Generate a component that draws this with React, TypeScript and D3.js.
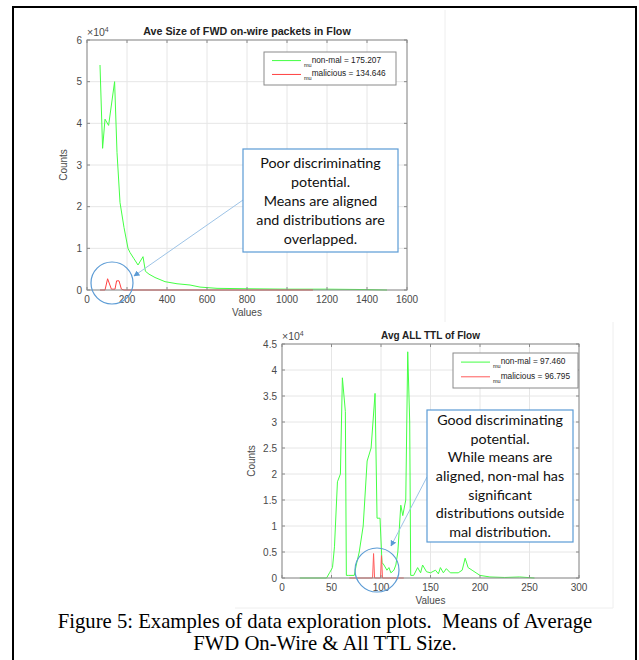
import React from "react";
import * as d3 from "d3";

// top chart: Ave Size of FWD on-wire packets (counts in 1e4)
const topGreenX = [65, 78, 90, 108, 138, 150, 165, 185, 205, 215, 235, 255, 280, 292, 310, 340, 390, 450, 515, 565, 650, 800, 1000, 1200, 1400, 1500];
const topGreenY = [5.4, 3.4, 4.1, 3.95, 5.0, 3.3, 2.1, 1.5, 1.0, 0.9, 0.75, 0.6, 0.8, 0.45, 0.38, 0.3, 0.2, 0.15, 0.12, 0.07, 0.04, 0.03, 0.02, 0.02, 0.01, 0.0];
const topRedX = [65, 90, 103, 122, 140, 148, 160, 172, 185, 300, 600, 1130];
const topRedY = [0, 0, 0.27, 0.02, 0.02, 0.22, 0.22, 0.02, 0, 0, 0, 0];
const topXTicks = [0, 200, 400, 600, 800, 1000, 1200, 1400, 1600];
const topYTicks = [0, 1, 2, 3, 4, 5, 6];

// bottom chart: Avg ALL TTL of Flow (counts in 1e4)
const botGreenX = [18, 45, 48, 51, 53, 56, 59, 61, 64, 65, 67, 73, 75, 78, 82, 86, 90, 94, 96, 99, 101, 103, 106, 108, 110, 113, 115, 117, 120, 122, 125, 127, 129, 130, 133, 137, 140, 142, 146, 150, 155, 158, 160, 163, 166, 170, 178, 182, 185, 188, 192, 196, 200, 210, 225, 240, 255];
const botGreenY = [0, 0, 0.1, 0.2, 0.6, 1.85, 2.0, 3.85, 3.2, 0.05, 0.05, 0.05, 0.25, 0.5, 1.0, 2.25, 2.5, 3.55, 1.15, 1.15, 0.3, 0.25, 0.15, 0.2, 0.1, 0.15, 0.25, 0.5, 1.4, 1.2, 1.5, 4.35, 3.0, 0.05, 0.05, 0.2, 0.1, 0.25, 0.12, 0.1, 0.15, 0.08, 0.2, 0.1, 0.18, 0.1, 0.1, 0.15, 0.38, 0.2, 0.15, 0.1, 0.05, 0.02, 0.01, 0.02, 0];
const botRedX = [68, 91.5, 92.5, 93.5, 99.5, 100.5, 101.5, 123];
const botRedY = [0, 0, 0.47, 0, 0, 0.43, 0, 0];
const botXTicks = [0, 50, 100, 150, 200, 250, 300];
const botYTicks = [0, 0.5, 1, 1.5, 2, 2.5, 3, 3.5, 4, 4.5];

const topLegend = ["non-mal = 175.207", "malicious = 134.646"];
const botLegend = ["non-mal = 97.460", "malicious = 96.795"];
const topNote = ["Poor discriminating", "potential.", "Means are aligned", "and distributions are", "overlapped."];
const botNote = ["Good discriminating", "potential.", "While means are", "aligned, non-mal has", "significant", "distributions outside", "mal distribution."];
const caption = ["Figure 5: Examples of data exploration plots.  Means of Average", "FWD On-Wire & All TTL Size."];

const GREEN = "#44ff44";
const RED = "#ff4040";
const AXIS = "#8a8a8a";
const TXT = "#4a4a4a";
const NOTE = "#5b9bd5";

type ChartProps = {
  box: [number, number, number, number];
  xDomain: [number, number];
  yDomain: [number, number];
  xTicks: number[];
  yTicks: number[];
  title: string;
  titleSize: number;
  greenX: number[];
  greenY: number[];
  redX: number[];
  redY: number[];
  legend: string[];
  legendBox: [number, number, number, number];
  redColor: string;
  yLabelOff: number;
};

function Chart(p: ChartProps) {
  const [x0, y0, x1, y1] = p.box;
  const x = d3.scaleLinear().domain(p.xDomain).range([x0, x1]);
  const y = d3.scaleLinear().domain(p.yDomain).range([y1, y0]);
  const line = d3
    .line<[number, number]>()
    .x((d) => x(d[0]))
    .y((d) => y(d[1]));
  const green = p.greenX.map((v, i) => [v, p.greenY[i]] as [number, number]);
  const red = p.redX.map((v, i) => [v, p.redY[i]] as [number, number]);
  const [lx, ly, lw, lh] = p.legendBox;
  const fs = 10;
  return (
    <g fontFamily="Liberation Sans, Arial, sans-serif">
      {/* grid */}
      {p.xTicks.map((t) => (
        <line key={"gx" + t} x1={x(t)} x2={x(t)} y1={y0} y2={y1} stroke="#e6e6e6" />
      ))}
      {p.yTicks.map((t) => (
        <line key={"gy" + t} x1={x0} x2={x1} y1={y(t)} y2={y(t)} stroke="#e6e6e6" />
      ))}
      <path d={line(green) || ""} fill="none" stroke={GREEN} strokeWidth={1} />
      <path d={line(red) || ""} fill="none" stroke={p.redColor} strokeWidth={1} />
      {/* frame and ticks */}
      <rect x={x0} y={y0} width={x1 - x0} height={y1 - y0} fill="none" stroke={AXIS} />
      {p.xTicks.map((t) => (
        <g key={"tx" + t}>
          <line x1={x(t)} x2={x(t)} y1={y1} y2={y1 - 3} stroke={AXIS} />
          <line x1={x(t)} x2={x(t)} y1={y0} y2={y0 + 3} stroke={AXIS} />
          <text x={x(t)} y={y1 + 13} textAnchor="middle" fontSize={fs} fill={TXT}>
            {t}
          </text>
        </g>
      ))}
      {p.yTicks.map((t) => (
        <g key={"ty" + t}>
          <line x1={x0} x2={x0 + 3} y1={y(t)} y2={y(t)} stroke={AXIS} />
          <line x1={x1} x2={x1 - 3} y1={y(t)} y2={y(t)} stroke={AXIS} />
          <text x={x0 - 5} y={y(t) + 3.5} textAnchor="end" fontSize={fs} fill={TXT}>
            {t}
          </text>
        </g>
      ))}
      <text x={x0} y={y0 - 4} fontSize={10.5} fill={TXT}>
        ×10<tspan dy={-4.5} fontSize={7}>4</tspan>
      </text>
      <text x={(x0 + x1) / 2} y={y0 - 5} textAnchor="middle" fontSize={p.titleSize} fontWeight="bold" fill="#222">
        {p.title}
      </text>
      <text x={(x0 + x1) / 2} y={y1 + 26} textAnchor="middle" fontSize={fs} fill={TXT}>
        Values
      </text>
      <text
        transform={`translate(${x0 - p.yLabelOff},${(y0 + y1) / 2}) rotate(-90)`}
        textAnchor="middle"
        fontSize={fs}
        fill={TXT}
      >
        Counts
      </text>
      {/* legend */}
      <rect x={lx} y={ly} width={lw} height={lh} fill="#fff" stroke={AXIS} />
      {p.legend.map((s, i) => {
        const yy = ly + lh * (i === 0 ? 0.26 : 0.68);
        return (
          <g key={s}>
            <line x1={lx + 8} x2={lx + 37} y1={yy} y2={yy} stroke={i === 0 ? GREEN : p.redColor} />
            <text x={lx + 40} y={yy + 2} fontSize={8.3} fill="#222">
              <tspan dy={4} fontSize={5.5}>mu</tspan>
              <tspan dy={-4}>{s}</tspan>
            </text>
          </g>
        );
      })}
    </g>
  );
}

function Note({ box, lines, lineH }: { box: [number, number, number, number]; lines: string[]; lineH: number }) {
  const [bx, by, bw, bh] = box;
  const top = by + bh / 2 - ((lines.length - 1) * lineH) / 2;
  return (
    <g>
      <rect x={bx} y={by} width={bw} height={bh} fill="#fff" stroke={NOTE} strokeWidth={1.2} />
      {lines.map((s, i) => (
        <text
          key={i}
          x={bx + bw / 2}
          y={top + i * lineH + 5}
          textAnchor="middle"
          fontFamily="Lato, Carlito, sans-serif"
          fontSize={14.3}
          fill="#111"
        >
          {s}
        </text>
      ))}
    </g>
  );
}

export default function App() {
  return (
    <svg
      width={639}
      height={660}
      style={{ position: "absolute", left: 0, top: 0, background: "#fff" }}
    >
      <defs>
        <marker id="arr" viewBox="0 0 10 10" refX="9" refY="5" markerWidth="6" markerHeight="6" orient="auto">
          <path d="M0,0 L10,5 L0,10 z" fill={NOTE} />
        </marker>
      </defs>
      {/* faint screenshot edges */}
      <line x1={445} x2={445} y1={10} y2={322} stroke="#eeeeee" />
      <line x1={613} x2={613} y1={322} y2={608} stroke="#eeeeee" />
      <line x1={235} x2={613} y1={608} y2={608} stroke="#eeeeee" />

      <Chart
        box={[87, 40, 407, 290]}
        xDomain={[0, 1600]}
        yDomain={[0, 6]}
        xTicks={topXTicks}
        yTicks={topYTicks}
        title="Ave Size of FWD on-wire packets in Flow"
        titleSize={10.7}
        greenX={topGreenX}
        greenY={topGreenY}
        redX={topRedX}
        redY={topRedY}
        legend={topLegend}
        legendBox={[264, 52, 132, 33]}
        redColor={RED}
        yLabelOff={20}
      />
      <Chart
        box={[282, 344, 579, 578]}
        xDomain={[0, 300]}
        yDomain={[0, 4.5]}
        xTicks={botXTicks}
        yTicks={botYTicks}
        title="Avg ALL TTL of Flow"
        titleSize={10}
        greenX={botGreenX}
        greenY={botGreenY}
        redX={botRedX}
        redY={botRedY}
        legend={botLegend}
        legendBox={[453, 353, 125, 35]}
        redColor="#ff5a5a"
        yLabelOff={27}
      />

      {/* annotations */}
      <circle cx={112} cy={283} r={21} fill="none" stroke={NOTE} strokeWidth={1.2} />
      <line x1={243} y1={200} x2={134} y2={276} stroke="#9dc3e6" strokeWidth={1} markerEnd="url(#arr)" />
      <Note box={[243, 149, 155, 103]} lines={topNote} lineH={19} />

      <circle cx={377} cy={570} r={22} fill="none" stroke={NOTE} strokeWidth={1.2} />
      <line x1={427} y1={477} x2={391} y2={546} stroke="#9dc3e6" strokeWidth={1} markerEnd="url(#arr)" />
      <Note box={[427, 410, 146, 132]} lines={botNote} lineH={18.7} />

      {caption.map((s, i) => (
        <text
          key={i}
          x={325}
          y={628 + i * 21.5}
          textAnchor="middle"
          fontFamily="Liberation Serif, Times New Roman, serif"
          fontSize={20.7}
          fill="#000"
          xmlSpace="preserve"
          style={{ whiteSpace: "pre" }}
        >
          {s}
        </text>
      ))}

      <rect x={13} y={7} width={623} height={670} fill="none" stroke="#000" strokeWidth={2} />
    </svg>
  );
}
